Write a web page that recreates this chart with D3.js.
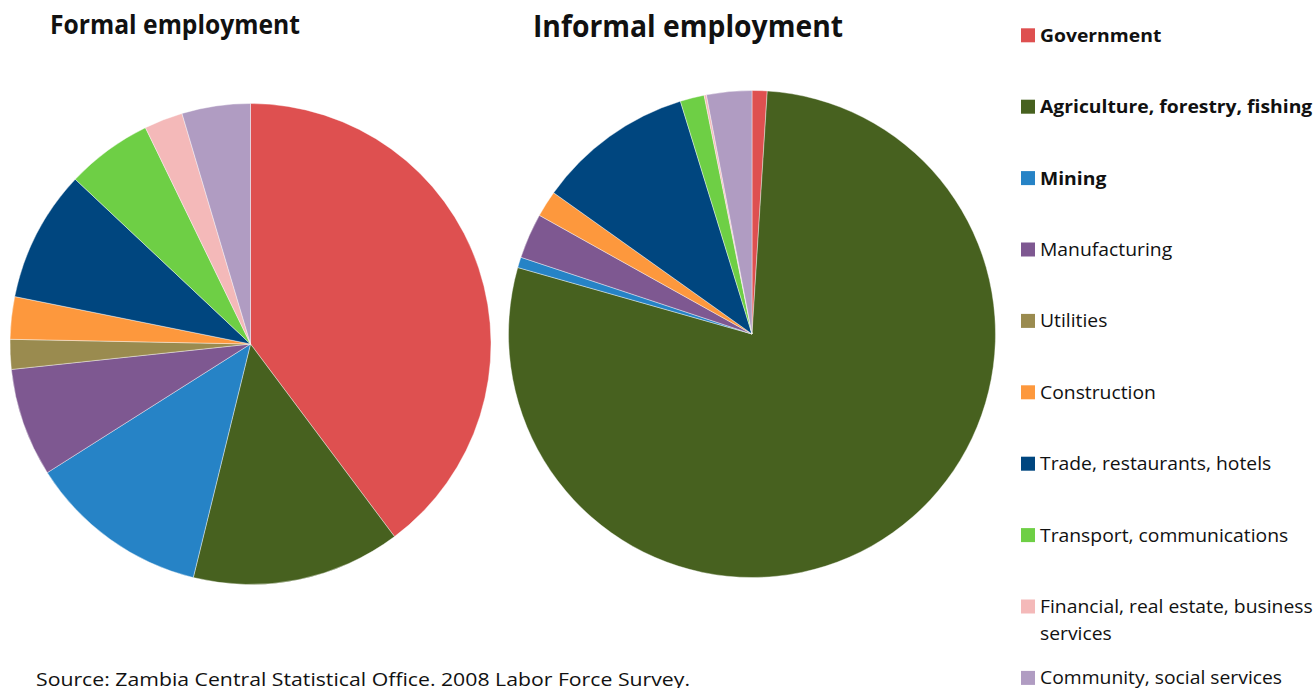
<!DOCTYPE html>
<html>
<head>
<meta charset="utf-8">
<script src="https://cdn.jsdelivr.net/npm/d3@7"></script>
<style>
  html, body { margin: 0; padding: 0; background: #fff; }
  svg { display: block; }
  text { font-family: "Open Sans", "Noto Sans", sans-serif; fill: #111; }
</style>
</head>
<body>
<svg id="chart" width="1316" height="688"></svg>
<script>
// Sectors, in drawing order (clockwise from 12 o'clock)
const sectors = [
  "Government",
  "Agriculture, forestry, fishing",
  "Mining",
  "Manufacturing",
  "Utilities",
  "Construction",
  "Trade, restaurants, hotels",
  "Transport, communications",
  "Financial, real estate, business services",
  "Community, social services"
];
const boldSectors = ["Government", "Agriculture, forestry, fishing", "Mining"];
const sectorColors = ["#de5050", "#47611f", "#2683c6", "#7e5891", "#9a8b4f",
                      "#fd983d", "#00467f", "#6ecf45", "#f4b9b9", "#b09cc2"];

// Share of employment by sector (%)
const formalShares   = [39.8, 14.05, 12.2, 7.3, 2.0, 2.85, 8.85, 5.8, 2.6, 4.6];
const informalShares = [1.0, 78.4, 0.7, 3.0, 0.0, 1.75, 10.4, 1.6, 0.15, 3.0];

const titles = ["Formal employment", "Informal employment"];
const sourceNote = "Source: Zambia Central Statistical Office. 2008 Labor Force Survey.";

const svg = d3.select("#chart");
const color = d3.scaleOrdinal().domain(sectors).range(sectorColors);

const pie = d3.pie().sort(null).value(d => d.value);

function drawPie(values, cx, cy, r) {
  const data = sectors.map((s, i) => ({ sector: s, value: values[i] }));
  const arc = d3.arc().innerRadius(0).outerRadius(r);
  const g = svg.append("g").attr("transform", `translate(${cx},${cy})`);
  g.selectAll("path")
    .data(pie(data))
    .join("path")
    .attr("d", arc)
    .attr("fill", d => color(d.data.sector))
    .attr("stroke", "#ffffff")
    .attr("stroke-width", d => d.data.value > 0 ? 0.4 : 0);
}

drawPie(formalShares, 250.5, 344, 240.5);
drawPie(informalShares, 752, 334, 243.5);

// Titles
svg.append("text")
  .attr("x", 50).attr("y", 34)
  .attr("font-size", 27).attr("font-weight", 700)
  .attr("textLength", 250).attr("lengthAdjust", "spacingAndGlyphs")
  .text(titles[0]);
svg.append("text")
  .attr("x", 533).attr("y", 37)
  .attr("font-size", 31).attr("font-weight", 700)
  .attr("textLength", 310).attr("lengthAdjust", "spacingAndGlyphs")
  .text(titles[1]);

// Legend
const legend = svg.append("g").attr("transform", "translate(1021,28.3)");
const rowStep = 71.4;
const items = legend.selectAll("g.item")
  .data(sectors)
  .join("g")
  .attr("class", "item")
  .attr("transform", (d, i) => `translate(0,${i * rowStep})`);
items.append("rect")
  .attr("width", 14).attr("height", 14)
  .attr("fill", d => color(d));
const labels = items.append("text")
  .attr("x", 19).attr("y", 13.5)
  .attr("font-size", 18.5)
  .attr("font-weight", d => boldSectors.includes(d) ? 700 : 400);
labels.each(function(d) {
  const t = d3.select(this);
  if (d === "Financial, real estate, business services") {
    t.append("tspan").attr("x", 19).text("Financial, real estate, business");
    t.append("tspan").attr("x", 19).attr("dy", 27.5).text("services");
  } else {
    t.text(d);
  }
});
// Slightly widen the legend type
labels.attr("transform", "translate(19,0) scale(1.045,1) translate(-19,0)");

// Source note
svg.append("text")
  .attr("x", 36).attr("y", 686)
  .attr("font-size", 18.5)
  .attr("textLength", 654).attr("lengthAdjust", "spacingAndGlyphs")
  .text(sourceNote);
</script>
</body>
</html>
